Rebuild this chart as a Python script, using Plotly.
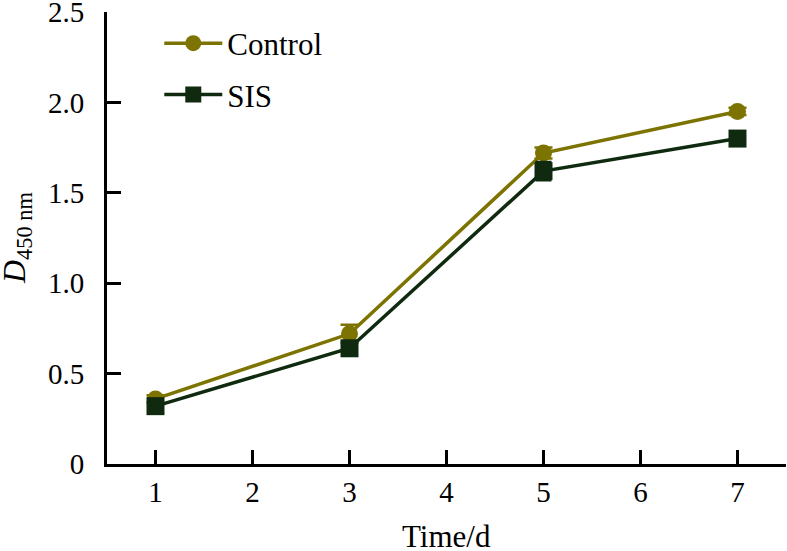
import plotly.graph_objects as go

days = [1, 3, 5, 7]
control = [0.36, 0.72, 1.72, 1.95]
control_err = [0.02, 0.05, 0.03, 0.02]
sis = [0.32, 0.64, 1.62, 1.80]
sis_err = [0.02, 0.03, 0.05, 0.02]
x_ticks = [1, 2, 3, 4, 5, 6, 7]
y_ticks = [0, 0.5, 1.0, 1.5, 2.0, 2.5]
y_tick_labels = ["0", "0.5", "1.0", "1.5", "2.0", "2.5"]
x_title = "Time/d"
y_title = "<i>D</i><sub>450 nm</sub>"

FONT = "Liberation Serif"
C_CTRL = "#7d7300"
C_SIS = "#0f2a0f"

fig = go.Figure()
fig.add_trace(go.Scatter(
    x=days, y=control, name="Control", mode="lines+markers",
    line=dict(color=C_CTRL, width=3.5),
    marker=dict(symbol="circle", size=17, color=C_CTRL),
    error_y=dict(type="data", array=control_err, color=C_CTRL, thickness=2.5, width=9),
    legendgroup="a",
))
fig.add_trace(go.Scatter(
    x=days, y=sis, name="SIS", mode="lines+markers",
    line=dict(color=C_SIS, width=3.5),
    marker=dict(symbol="square", size=18, color=C_SIS),
    error_y=dict(type="data", array=sis_err, color=C_SIS, thickness=2.5, width=8),
    legendgroup="b",
))

fig.update_layout(
    width=787, height=551,
    margin=dict(l=107, r=1, t=12, b=87, autoexpand=False),
    paper_bgcolor="white", plot_bgcolor="white",
    font=dict(family=FONT, size=30, color="black"),
    showlegend=True,
    legend=dict(x=0.077, y=0.99, xanchor="left", yanchor="top",
                font=dict(family=FONT, size=31, color="black"),
                itemwidth=58, tracegroupgap=8, traceorder="grouped",
                bgcolor="rgba(0,0,0,0)"),
    xaxis=dict(
        range=[0.5, 7.5], tickvals=x_ticks, ticks="inside", ticklen=14,
        tickwidth=3, tickcolor="black", showline=True, linecolor="black",
        linewidth=3, showgrid=False, zeroline=False, automargin=False,
        tickfont=dict(family=FONT, size=29), ticklabeloverflow="allow",
    ),
    yaxis=dict(
        range=[0, 2.5001], tickvals=y_ticks, ticktext=y_tick_labels,
        ticks="inside", ticklen=14, tickwidth=3, tickcolor="black",
        showline=True, linecolor="black", linewidth=3, showgrid=False,
        zeroline=False, ticklabelstandoff=14, automargin=False,
        tickfont=dict(family=FONT, size=29), ticklabeloverflow="allow",
    ),
    annotations=[
        dict(text=x_title, xref="paper", yref="paper", x=0.5, y=-0.16,
             xanchor="center", yanchor="middle", showarrow=False,
             font=dict(family=FONT, size=31, color="black")),
        dict(text=y_title, xref="paper", yref="paper", x=-0.134, y=0.5,
             xanchor="center", yanchor="middle", textangle=-90, showarrow=False,
             font=dict(family=FONT, size=32, color="black")),
    ],
)

fig.write_html(
    "out.html",
    config={"displayModeBar": False},
    post_script="document.body.style.margin='0';document.body.style.overflow='hidden';",
)
